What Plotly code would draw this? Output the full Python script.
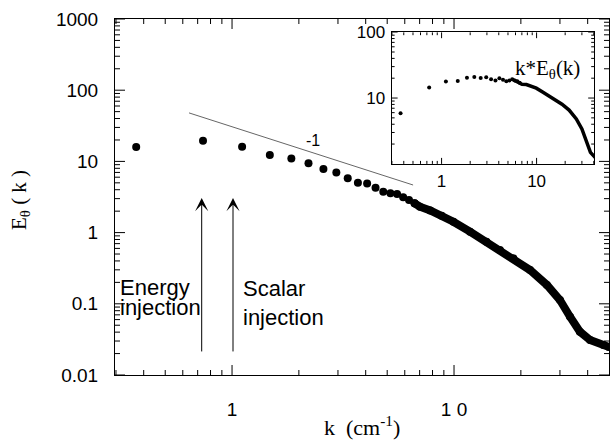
import math
import plotly.graph_objects as go

# ---- data ----
k_points = [0.37, 0.74, 1.11, 1.48, 1.85, 2.21, 2.58, 2.95, 3.32, 3.69, 4.06, 4.43, 4.80, 5.17, 5.54, 5.90, 6.27, 6.64]
E_points = [15.9, 19.5, 16.1, 12.3, 11.0, 9.4, 7.8, 7.0, 5.8, 5.0, 4.9, 4.27, 3.75, 3.56, 3.48, 3.13, 2.87, 2.58]

k_band = [7.02, 7.81, 8.8, 9.93, 11.8, 14.0, 16.1, 18.5, 22.0, 26.2, 30.0, 33.3, 36.9, 41.0, 47.1, 49.9]
E_band = [2.31, 2.05, 1.72, 1.42, 1.03, 0.745, 0.570, 0.435, 0.298, 0.184, 0.113, 0.0659, 0.0406, 0.031, 0.0264, 0.0247]

slope_k = [0.64, 6.54]
slope_E = [48.0, 4.66]

x_ticks = [1, 10]
x_ticktext = ["1", "1 0"]
x_minor = [0.3, 0.4, 0.5, 0.6, 0.7, 0.8, 0.9, 2, 3, 4, 5, 6, 7, 8, 9, 20, 30, 40]
y_ticks = [0.01, 0.1, 1, 10, 100, 1000]
y_ticktext = ["0.01", "0.1", "1", "10", "100", "1000"]
y_minor = [m * d for d in (0.01, 0.1, 1, 10, 100) for m in (2, 3, 4, 5, 6, 7, 8, 9)]
inset_x_ticks = [1, 10]
inset_x_text = ["1", "10"]
inset_x_minor = [0.3, 0.4, 0.5, 0.6, 0.7, 0.8, 0.9, 2, 3, 4, 5, 6, 7, 8, 9, 20, 30, 40]
inset_y_ticks = [10, 100]
inset_y_text = ["10", "100"]
inset_y_minor = [m * d for d in (1, 10) for m in (2, 3, 4, 5, 6, 7, 8, 9)]

energy_k = 0.73
scalar_k = 1.01
arrow_top_E = 3.06
arrow_bottom_E = 0.0204

# ---- layout geometry ----
W, H = 610, 440
ML, MR, MT, MB = 115, 1, 19, 65
X1 = [0.297, 49.9]
Y1 = [0.01, 1000]
X2 = [0.298, 40.4]
Y2 = [1, 100]
DOM_X2 = [0.560, 0.970]
DOM_Y2 = [0.593, 0.963]

# ---- derived ----
kE_points = [k * e for k, e in zip(k_points, E_points)]
kE_band = [k * e for k, e in zip(k_band, E_band)]

SANS = "Liberation Sans, Arial, sans-serif"
SERIF = "Liberation Serif, Times New Roman, serif"
L = math.log10

fig = go.Figure()

fig.add_trace(go.Scatter(x=k_points, y=E_points, mode="markers",
                         marker=dict(size=8, color="black"), xaxis="x", yaxis="y"))
fig.add_trace(go.Scatter(x=k_points[-1:] + k_band, y=E_points[-1:] + E_band, mode="lines+markers",
                         line=dict(color="black", width=8),
                         marker=dict(size=8, color="black"), xaxis="x", yaxis="y"))
fig.add_trace(go.Scatter(x=slope_k, y=slope_E, mode="lines",
                         line=dict(color="#666666", width=1), xaxis="x", yaxis="y"))

fig.add_trace(go.Scatter(x=k_points, y=kE_points, mode="markers",
                         marker=dict(size=4, color="black"), xaxis="x2", yaxis="y2"))
fig.add_trace(go.Scatter(x=k_points[14:] + k_band, y=kE_points[14:] + kE_band, mode="lines",
                         line=dict(color="black", width=3.5), xaxis="x2", yaxis="y2"))


# ---- inside tick marks on all four sides (drawn as thin line traces) ----
def tick_trace(xr, yr, dom_x, dom_y, xmaj, xmin, ymaj, ymin, lmaj, lmin, xa, ya):
    pw = (W - ML - MR) * (dom_x[1] - dom_x[0])
    ph = (H - MT - MB) * (dom_y[1] - dom_y[0])
    dx = (L(xr[1]) - L(xr[0])) / pw   # decades per pixel
    dy = (L(yr[1]) - L(yr[0])) / ph
    xs, ys = [], []
    for vals, ln in ((xmaj, lmaj), (xmin, lmin)):
        f = 10 ** (ln * dy)
        for v in vals:
            if xr[0] <= v <= xr[1]:
                xs += [v, v, None, v, v, None]
                ys += [yr[0], yr[0] * f, None, yr[1], yr[1] / f, None]
    for vals, ln in ((ymaj, lmaj), (ymin, lmin)):
        f = 10 ** (ln * dx)
        for v in vals:
            if yr[0] <= v <= yr[1]:
                xs += [xr[0], xr[0] * f, None, xr[1], xr[1] / f, None]
                ys += [v, v, None, v, v, None]
    return go.Scatter(x=xs, y=ys, mode="lines", line=dict(color="black", width=1),
                      xaxis=xa, yaxis=ya, hoverinfo="skip", cliponaxis=False)


fig.add_trace(tick_trace(X1, Y1, [0, 1], [0, 1], x_ticks, x_minor, y_ticks, y_minor, 10, 5, "x", "y"))
fig.add_trace(tick_trace(X2, Y2, DOM_X2, DOM_Y2, inset_x_ticks, inset_x_minor, inset_y_ticks,
                         inset_y_minor, 6, 3, "x2", "y2"))


def axis(rng, dom, anchor, tv, tt, fsize, standoff):
    return dict(type="log", range=[L(rng[0]), L(rng[1])], domain=dom, anchor=anchor,
                showline=True, linecolor="black", linewidth=1, mirror=True,
                ticks="", showgrid=False, zeroline=False,
                tickmode="array", tickvals=tv, ticktext=tt,
                tickfont=dict(family=SANS, size=fsize, color="black"),
                ticklabelstandoff=standoff)


fig.update_layout(
    width=W, height=H,
    margin=dict(l=ML, r=MR, t=MT, b=MB),
    plot_bgcolor="white", paper_bgcolor="white",
    showlegend=False,
    xaxis=axis(X1, [0, 1], "y", x_ticks, x_ticktext, 19, 17),
    yaxis=axis(Y1, [0, 1], "x", y_ticks, y_ticktext, 19, 12),
    xaxis2=axis(X2, DOM_X2, "y2", inset_x_ticks, inset_x_text, 17, 2),
    yaxis2=axis(Y2, DOM_Y2, "x2", inset_y_ticks, inset_y_text, 17, 2),
)

ann = []
for kk in (energy_k, scalar_k):
    ann.append(dict(x=L(kk), y=L(arrow_top_E), ax=L(kk), ay=L(arrow_bottom_E),
                    xref="x", yref="y", axref="x", ayref="y", text="", showarrow=True,
                    arrowhead=3, arrowsize=2.2, arrowwidth=1, arrowcolor="black"))


def txt(x, y, t, size=22, xanchor="left", family=SANS):
    return dict(x=x, y=y, xref="x", yref="y", text=t, showarrow=False, xanchor=xanchor,
                yanchor="middle", font=dict(family=family, size=size, color="black"))


ann.append(txt(-0.512, -0.764, "Energy"))
ann.append(txt(-0.512, -1.050, "injection"))
ann.append(txt(0.040, -0.792, "Scalar"))
ann.append(txt(0.040, -1.199, "injection"))
ann.append(txt(0.365, 1.287, "-1", size=16, xanchor="center"))

ann.append(dict(x=0.8745, y=0.86, xref="paper", yref="paper", showarrow=False,
                text="k*E<sub>θ</sub>(k)", xanchor="center", yanchor="middle",
                font=dict(family=SERIF, size=21, color="black")))
ann.append(dict(x=0.4992, y=-0.143, xref="paper", yref="paper", showarrow=False,
                text="k  (cm<sup>-1</sup>)", xanchor="center", yanchor="middle",
                font=dict(family=SERIF, size=22, color="black")))
ann.append(dict(x=-0.1923, y=0.4916, xref="paper", yref="paper", showarrow=False,
                text="E<sub>θ</sub> ( k )", textangle=-90, xanchor="center", yanchor="middle",
                font=dict(family=SERIF, size=21, color="black")))

fig.update_layout(annotations=ann)
fig.write_html("out.html")
